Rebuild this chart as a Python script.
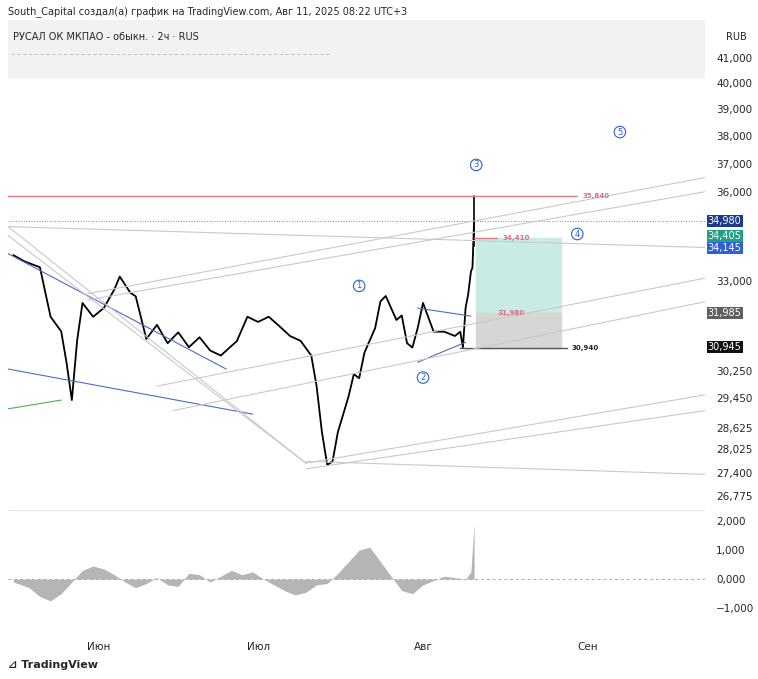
import numpy as np, pandas as pd, seaborn as sns, matplotlib
matplotlib.use("Agg")
import matplotlib.pyplot as plt
import matplotlib.dates as mdates

sns.set_theme(style="white")
plt.rcParams['font.family'] = ['DejaVu Sans']

# ---- data ----
day_offsets = [0,2,5,7,9,10,11,12,13,15,17,19,20,22,23,25,27,29,31,33,35,37,39,41,42,44,46,48,50,52,54,56,57,58,59,60,61,63,64,65,66,68,69,70,72,73,74,75,76,77,79,81,83,84,84.5,85,85.5,86,86.3,86.6]
close = [33850,33650,33450,31880,31430,30490,29400,31160,32310,31880,32150,32740,33150,32630,32520,31200,31630,31070,31400,30950,31250,30850,30700,30990,31130,31880,31720,31880,31590,31290,31140,30700,29800,28500,27600,27700,28500,29500,30150,30030,30790,31530,32360,32530,31780,31920,31070,30940,31530,32310,31420,31420,31290,31420,30945,32150,32600,33300,33450,34980]
start = pd.Timestamp("2025-05-16")
dates = [start + pd.Timedelta(days=d) for d in day_offsets]

osc_offsets = [0,3,5,7,9,11,13,15,17,19,21,23,25,27,29,31,33,35,37,39,41,43,45,47,49,51,53,55,57,59,61,63,65,67,69,71,73,75,77,79,81,83,85,86,86.6]
osc_vals = [-100,-300,-600,-750,-500,-100,300,450,350,150,-100,-300,-150,50,-200,-250,200,150,-100,100,300,150,250,0,-200,-400,-550,-450,-200,-150,200,600,1000,1100,600,100,-400,-500,-200,-50,100,50,0,250,1900]
osc_dates = [start + pd.Timedelta(days=d) for d in osc_offsets]

high_level, entry, tp1, stop = 35840, 34410, 31985, 30940
yticks = [41000,40000,39000,38000,37000,36000,33000,30250,29450,28625,28025,27400,26775]
osc_ticks = [2000,1000,0,-1000]
month_ticks = ["2025-06-01","2025-07-01","2025-08-01","2025-09-01"]
month_labels = ["Июн","Июл","Авг","Сен"]
tags = [(34980,"#1b3c8c",0),(34405,"#22a085",1.5),(34145,"#2f5fd8",-1.5),(31985,"#5f5f5f",0),(30945,"#111111",0)]

fig = plt.figure(figsize=(7.58,6.79), dpi=100)
W,H = 758,679
def ax_rect(x0,y0,x1,y1): return [x0/W, 1-y1/H, (x1-x0)/W, (y1-y0)/H]
ax = fig.add_axes(ax_rect(8,20,705,510))
ax2 = fig.add_axes(ax_rect(8,510,705,620), sharex=ax)

x0d = pd.Timestamp("2025-05-15"); x1d = pd.Timestamp("2025-09-23")
ax.set_yscale("log")
ax.set_ylim(26420, 42540)
ax.set_xlim(x0d, x1d)
df = pd.DataFrame({"date":dates,"close":close})
sns.lineplot(data=df, x="date", y="close", ax=ax, color="black", lw=1.3)
ax.plot([dates[-1],dates[-1]],[34145,high_level],color="black",lw=1.2)

ax.axhspan(40250, 42540, color="#f2f2f2", zorder=0)
ax.plot([x0d, pd.Timestamp("2025-08-30")],[high_level]*2, color="#e07b86", lw=1)
ax.text(pd.Timestamp("2025-08-31"), high_level, "35,840", color="#d9707b", fontsize=5, va="center", fontweight="bold")
ax.axhline(34980, color="#888", lw=0.7, ls=":")
ax.plot([dates[-1], pd.Timestamp("2025-08-15")],[entry]*2, color="#e07b86", lw=1)
ax.text(pd.Timestamp("2025-08-16"), entry, "34,410", color="#d9707b", fontsize=5, va="center", fontweight="bold")
ax.text(pd.Timestamp("2025-08-15"), tp1, "31,980", color="#d9707b", fontsize=5, va="center", fontweight="bold")
ax.plot([pd.Timestamp("2025-08-08"), pd.Timestamp("2025-08-28")],[stop]*2, color="#555", lw=1)
ax.text(pd.Timestamp("2025-08-29"), stop, "30,940", color="#222", fontsize=5, va="center", fontweight="bold")
rx0, rx1 = mdates.date2num(pd.Timestamp("2025-08-11")), mdates.date2num(pd.Timestamp("2025-08-27"))
ax.fill_between([rx0,rx1],[tp1]*2,[entry]*2,color="#c8ebe4")
ax.fill_between([rx0,rx1],[stop]*2,[tp1]*2,color="#d6d6d6")

def L(d1,p1,d2,p2,c,lw=0.8):
    ax.plot([pd.Timestamp(d1),pd.Timestamp(d2)],[p1,p2],color=c,lw=lw)
blue="#4a6fc0"; grey="#c9c9c9"
L("2025-05-15",33900,"2025-06-25",30300,blue)
L("2025-05-15",30300,"2025-06-30",29000,blue)
L("2025-07-31",30500,"2025-08-09",31100,blue)
L("2025-07-31",32150,"2025-08-10",31900,blue)
L("2025-05-15",34500,"2025-07-10",27650,grey)
L("2025-05-15",34800,"2025-07-10",27650,grey)
L("2025-05-30",32600,"2025-09-23",36500,grey)
L("2025-05-30",32400,"2025-09-23",36000,grey)
L("2025-05-15",34800,"2025-09-23",34100,grey)
L("2025-06-12",29800,"2025-09-23",33100,grey)
L("2025-06-15",29100,"2025-09-23",32350,grey)
L("2025-07-10",27650,"2025-09-23",29550,grey)
L("2025-07-10",27500,"2025-09-23",29100,grey)
L("2025-07-10",27700,"2025-09-23",27350,grey)
L("2025-05-15",29150,"2025-05-25",29400,"#4caf50")

for lab,d,p in [("1","2025-07-20",32850),("2","2025-08-01",30050),("3","2025-08-11",36950),("4","2025-08-30",34550),("5","2025-09-07",38150)]:
    ax.text(pd.Timestamp(d),p,lab,fontsize=6,color="#2f5fd8",ha="center",va="center",
            bbox=dict(boxstyle="circle,pad=0.15",fc="white",ec="#2f5fd8",lw=0.8))

ax.set_yticks(yticks); ax.yaxis.set_minor_locator(matplotlib.ticker.NullLocator())
ax.yaxis.tick_right()
ax.set_yticklabels([f"{v:,}" for v in yticks], fontsize=7.5)
ax.tick_params(axis="y", length=0, pad=8)
ax.set_ylabel(""); ax.set_xlabel("")
ax.tick_params(axis="x", bottom=False, labelbottom=False)
for t,col,off in tags:
    ax.annotate(f"{t:,}", xy=(1.0,t), xycoords=("axes fraction","data"), xytext=(2,off), textcoords="offset points",
                fontsize=7, color="white", va="center", ha="left",
                bbox=dict(boxstyle="square,pad=0.1", fc=col, ec="none"))
for s in ax.spines.values(): s.set_visible(False)
ax.text(0.007,0.975,"РУСАЛ ОК МКПАО - обыкн. · 2ч · RUS",transform=ax.transAxes,fontsize=7,va="top")
ax.plot([0.005,0.46],[0.93,0.93],transform=ax.transAxes,color="#bbb",lw=0.6,ls=(0,(4,3)))
ax.text(1.03,0.975,"RUB",transform=ax.transAxes,fontsize=7,va="top")

od = pd.DataFrame({"date":osc_dates,"v":osc_vals})
ax2.fill_between(od["date"], 0, od["v"], color="#b5b5b5", lw=0)
ax2.axhline(0,color="#aaa",lw=0.7,ls=(0,(3,3)))
ax2.set_ylim(-1410,2380)
ax2.set_yticks(osc_ticks); ax2.yaxis.tick_right()
ax2.set_yticklabels(["2,000","1,000","0,000","−1,000"], fontsize=7.5)
ax2.tick_params(axis="y", length=0, pad=8)
ax2.set_xticks([pd.Timestamp(m) for m in month_ticks])
ax2.set_xticklabels(month_labels, fontsize=7.5)
ax2.tick_params(axis="x", length=0, pad=16)
ax2.set_xlabel("")
for s in ax2.spines.values(): s.set_visible(False)
ax2.plot([0,1],[1,1],transform=ax2.transAxes,color="#e5e5e5",lw=0.8)

fig.text(8/W,1-12/H,"South_Capital создал(а) график на TradingView.com, Авг 11, 2025 08:22 UTC+3",fontsize=7,va="center")
fig.text(8/W,1-665/H,"⊿ TradingView",fontsize=8,va="center",fontweight="bold")
fig.savefig("out.png", dpi=100)
